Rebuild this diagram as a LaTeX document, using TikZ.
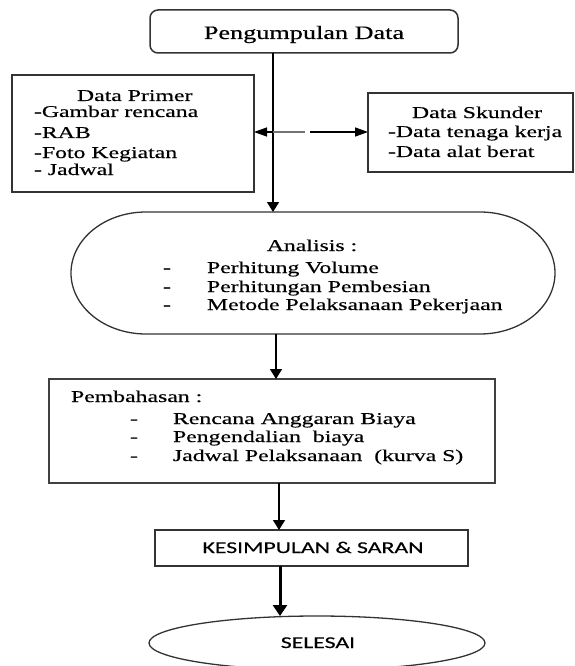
\documentclass[tikz,border=0pt]{standalone}
\usepackage{fontspec}
\setmainfont{Liberation Serif}[FakeStretch=1.44,FakeBold=0.5]
\newfontfamily\titlefont{Liberation Serif}[FakeStretch=1.38,FakeBold=0.5]
\newfontfamily\labelsans{Carlito}[FakeStretch=1.44,FakeBold=0.4]
\usetikzlibrary{arrows.meta,shapes.geometric}

\begin{document}
\begin{tikzpicture}[x=1pt,y=-1pt,
  box/.style={draw=black!80,line width=1.3pt,inner sep=0pt,outer sep=0pt},
  txt/.style={inner sep=0pt,outer sep=0pt,text=black,font=\fontsize{16.5}{19}\selectfont},
  sanstxt/.style={inner sep=0pt,outer sep=0pt,text=black,font=\labelsans\fontsize{16.5}{19}\selectfont},
  arr/.style={line width=1.4pt,-{Triangle[length=10pt,width=12pt]}},
  arrleft/.style={line width=1.3pt,-{Triangle[length=13pt,width=9pt]}},
  arrthick/.style={line width=3pt,-{Triangle[length=11pt,width=14pt]}},
  item/.style={txt,anchor=base west}]

\useasboundingbox (0,0) rectangle (575,666);
\clip (0,0) rectangle (575,666);

% x positions of the vertical connectors
\coordinate (xa) at (273,0);
\coordinate (xb) at (276,0);
\coordinate (xc) at (279,0);
\coordinate (xd) at (280,0);

% ---- boxes ----
\node[box,rounded corners=8pt,line width=1.5pt,minimum width=308pt,minimum height=43pt] (peng) at (304,31.5) {};
\node[box,minimum width=242pt,minimum height=117pt] (primer) at (133,133.5) {};
\node[box,minimum width=205pt,minimum height=79pt] (skunder) at (470.5,132.5) {};
\node[inner sep=0pt,outer sep=0pt,minimum width=484pt,minimum height=122pt] (analisis) at (313,273) {};
\draw[draw=black!80,line width=1.3pt]
  ([xshift=75pt]analisis.north west) -- ([xshift=-75pt]analisis.north east)
  arc[start angle=-90,end angle=90,x radius=75,y radius=61]
  -- ([xshift=75pt]analisis.south west)
  arc[start angle=90,end angle=270,x radius=75,y radius=61] -- cycle;
\node[box,line width=1.7pt,draw=black!75,minimum width=446pt,minimum height=104pt] (bahas) at (272,431) {};
\node[box,minimum width=313pt,minimum height=36pt] (kes) at (311.5,548) {};
\node[box,ellipse,minimum width=336pt,minimum height=54pt] (selesai) at (317,643) {};

% ---- texts ----
\node[inner sep=0pt,anchor=base,font=\titlefont\fontsize{19}{22}\selectfont] (tpeng) at (304,39) {Pengumpulan Data};

\node[item] (tprimer) at (77,101) {Data Primer};
\node[item] (p1) at (34,117) {-Gambar rencana};
\node[item] (p2) at (34,138) {-RAB};
\node[item] (p3) at (34,158) {-Foto Kegiatan};
\node[item] (p4) at (34,175) {- Jadwal};

\node[item] (tskunder) at (412,118) {Data Skunder};
\node[item] (s1) at (388,137) {-Data tenaga kerja};
\node[item] (s2) at (388,157) {-Data alat berat};

\node[txt,anchor=base] (tanalisis) at (312,251) {Analisis :};
\node[item] (a1) at (163,273) {\makebox[44pt][l]{-}Perhitung Volume};
\node[item] (a2) at (163,292) {\makebox[44pt][l]{-}Perhitungan Pembesian};
\node[item] (a3) at (163,310) {\makebox[44pt][l]{-}Metode Pelaksanaan Pekerjaan};

\node[item] (tbahas) at (71,402) {Pembahasan :};
\node[item] (b1) at (130,424) {\makebox[43pt][l]{-}Rencana Anggaran Biaya};
\node[item] (b2) at (130,442) {\makebox[43pt][l]{-}Pengendalian\ \ biaya};
\node[item] (b3) at (130,461) {\makebox[43pt][l]{-}Jadwal Pelaksanaan\ \ (kurva S)};

\node[sanstxt,anchor=base] (tkes) at (313,553) {KESIMPULAN \& SARAN};
\node[sanstxt,anchor=base] (tselesai) at (318,648) {SELESAI};

% ---- connectors ----
\coordinate (jn) at (273,132);
\coordinate (gapA) at (305,132);
\coordinate (gapB) at (310,132);

\draw[arr,line width=1.6pt] (peng.south -| xa) -- (analisis.north -| xa);
\draw[arrleft] (jn) -- (primer.east |- jn);
\draw[line width=1.3pt,black!55] (jn) -- (gapA);
\draw[arrleft] (gapB) -- (skunder.west |- gapB);
\draw[arr] (analisis.south -| xb) -- (bahas.north -| xb);
\draw[arr] (bahas.south -| xc) -- (kes.north -| xc);
\draw[arrthick] (kes.south -| xd) -- (selesai.north -| xd);
\end{tikzpicture}
\end{document}
